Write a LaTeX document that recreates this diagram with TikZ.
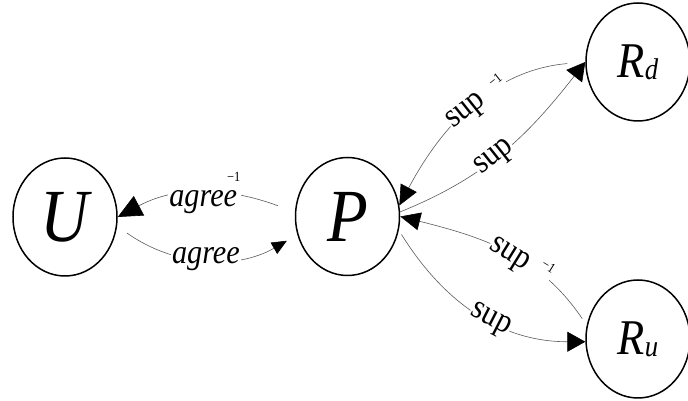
\documentclass[tikz,border=0pt]{standalone}
\usepackage{fontspec}
\setmainfont{Liberation Serif}[FakeStretch=0.89]
\usetikzlibrary{arrows.meta,shapes.geometric}
\definecolor{edgegray}{HTML}{5A5A5A}
\newcommand{\invmark}[2]{\hspace{#1}\raisebox{#2}{\fontsize{14}{14}\selectfont\upshape −1}}

\begin{document}
\begin{tikzpicture}[x=1pt,y=1pt,
  role/.style={ellipse,draw,line width=1.5pt,minimum width=104pt,minimum height=118pt,
    inner sep=0pt,font=\itshape},
  big/.style={font=\fontsize{75}{75}\selectfont\itshape},
  rel/.style={line width=0.6pt,edgegray},
  head/.style args={#1/#2}{-{Triangle[length=#1,width=#2,color=black]}},
  lbl/.style={fill=white,text=black,inner sep=1pt,font=\fontsize{34}{34}\selectfont},
  lbli/.style={lbl,font=\fontsize{34}{34}\selectfont\itshape}]
\useasboundingbox (0,0) rectangle (688,401);
\node[role,big] (U) at (65,184) {U};
\node[role,big] (P) at (347.5,184.5) {P};
\node[role] (Rd) at (638,339) {{\fontsize{50}{50}\selectfont R}\raisebox{-2pt}{\fontsize{30}{30}\selectfont d}};
\node[role] (Ru) at (638,62) {{\fontsize{50}{50}\selectfont R}\raisebox{-2pt}{\fontsize{30}{30}\selectfont u}};
\draw[rel,head=24pt/22pt,shorten <=18pt] (P.175) to[out=160,in=28]
  node[lbli]{agree\invmark{-10pt}{25pt}} (U.east);
\draw[rel,head=15pt/13pt,shorten <=12pt,shorten >=12pt] (U.-10) to[out=-35,in=210]
  node[lbli]{agree} (P.200);
\draw[rel,head=20pt/18pt,shorten <=18pt] (Rd.west) to[out=185,in=62]
  node[lbl,sloped,pos=0.48]{sup\invmark{14pt}{8pt}} (P.12);
\draw[rel,head=18pt/20pt] (P.5) to[out=22,in=232] node[lbl,sloped,pos=0.45]{sup} (Rd.west);
\draw[rel,head=20pt/18pt,shorten <=8pt] (Ru.165) to[out=124,in=-14]
  node[lbl,sloped,pos=0.42]{sup\invmark{12pt}{12pt}} (P.east);
\draw[rel,head=18pt/20pt,shorten <=5pt] (P.-15) to[out=-58,in=180]
  node[lbl,sloped,pos=0.57]{sup} (Ru.183);
\end{tikzpicture}
\end{document}
